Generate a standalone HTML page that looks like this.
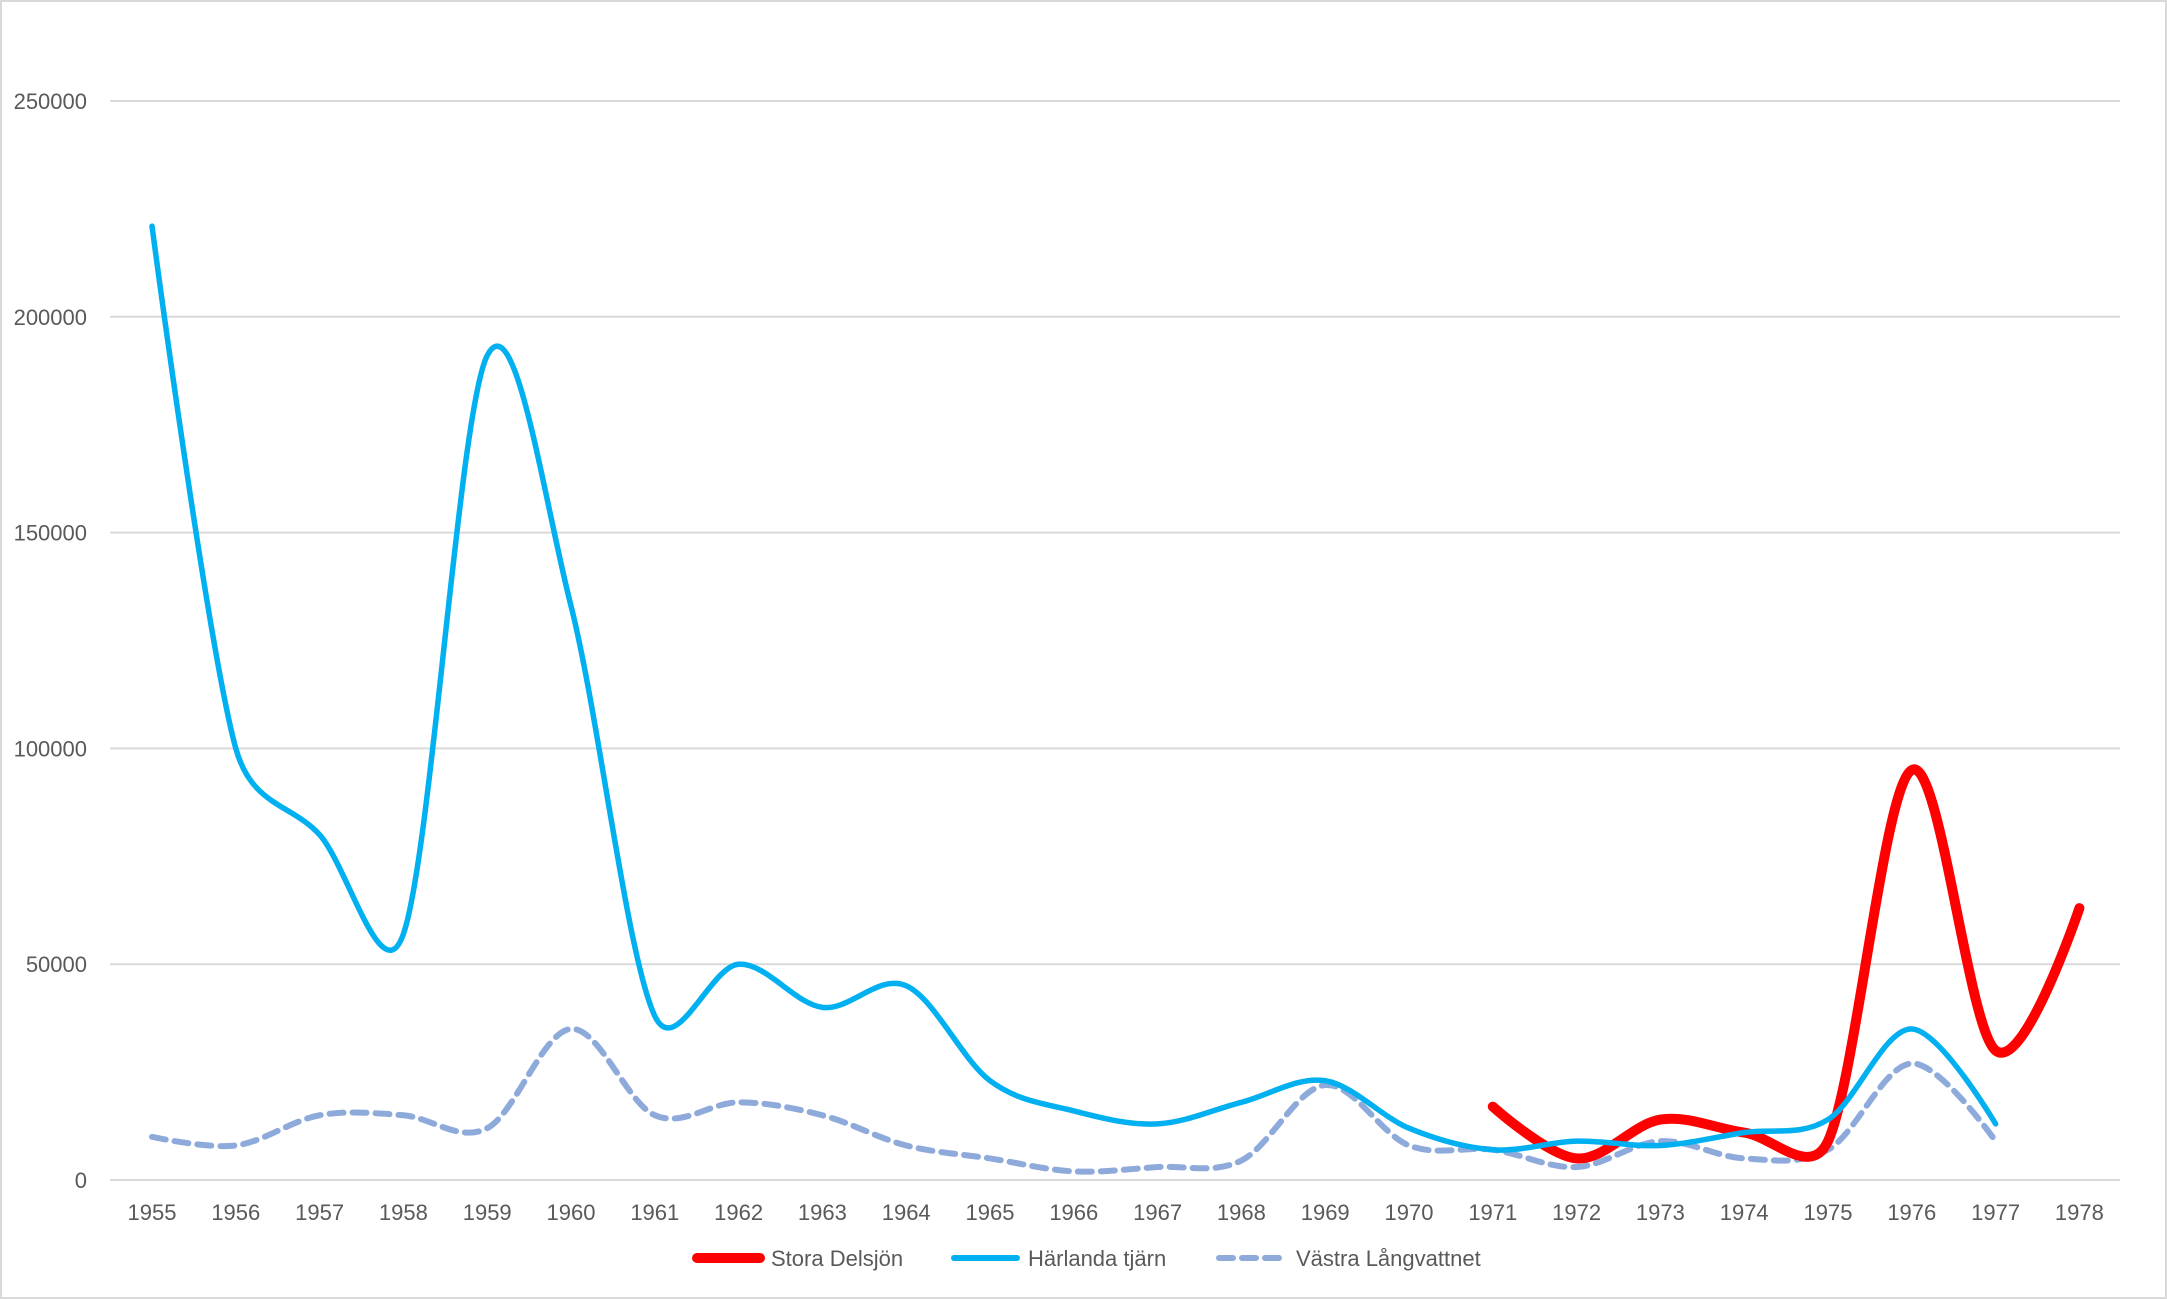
<!DOCTYPE html>
<html><head><meta charset="utf-8"><style>
html,body{margin:0;padding:0;background:#fff;}
svg{display:block;}
text{font-family:"Liberation Sans",sans-serif;fill:#595959;}
</style></head><body>
<svg id="s" width="2167" height="1299" viewBox="0 0 2167 1299" xmlns="http://www.w3.org/2000/svg">
<rect x="1" y="1" width="2165" height="1297" fill="#fff" stroke="#d9d9d9" stroke-width="2"/>
<g id="grid" stroke="#d9d9d9" stroke-width="2"></g>
<g id="ylab" font-size="22" text-anchor="end"></g>
<g id="xlab" font-size="22" text-anchor="middle"></g>
<g id="series" fill="none" stroke-linecap="round" stroke-linejoin="round"></g>
<g font-size="22">
<line x1="697" y1="1258" x2="760" y2="1258" stroke="#ff0000" stroke-width="10" stroke-linecap="round"/>
<text x="771" y="1266">Stora Delsjön</text>
<line x1="954" y1="1258" x2="1017" y2="1258" stroke="#00b0f0" stroke-width="6" stroke-linecap="round"/>
<text x="1028" y="1266">Härlanda tjärn</text>
<line x1="1219" y1="1258" x2="1284" y2="1258" stroke="#8eaadb" stroke-width="6" stroke-dasharray="14 9" stroke-linecap="round"/>
<text x="1296" y="1266">Västra Långvattnet</text>
</g>
</svg>
<script>
var NS="http://www.w3.org/2000/svg";
var x0=152,dx=83.8,y0=1180,ys=215.8/50000;
function X(i){return x0+i*dx;} function Y(v){return y0-v*ys;}
function el(t,a,p,txt){var e=document.createElementNS(NS,t);for(var k in a)e.setAttribute(k,a[k]);if(txt!==undefined)e.textContent=txt;document.getElementById(p).appendChild(e);}
for(var v=0;v<=250000;v+=50000){el('line',{x1:110,x2:2120,y1:Y(v),y2:Y(v)},'grid');el('text',{x:87,y:Y(v)+8},'ylab',String(v));}
for(var i=0;i<24;i++)el('text',{x:X(i),y:1220},'xlab',String(1955+i));
function dist(a,b){return Math.hypot(b[0]-a[0],b[1]-a[1]);}
function path(start,vals){var p=vals.map(function(v,i){return [X(start+i),Y(v)];});var d='M'+p[0][0]+' '+p[0][1];var n=p.length;
function cp(i,dir){
 if(i==0||i==n-1)return p[i];
 var a=p[i-1],b=p[i],c=p[i+1];
 var dac=dist(a,c);if(dac==0)return b;
 var L=dac/6, seg=dir>0?dist(b,c):dist(a,b);
 if(L>0.5*seg)L=0.5*seg;
 var ux=(c[0]-a[0])/dac,uy=(c[1]-a[1])/dac;
 return [b[0]+ux*L*dir,b[1]+uy*L*dir];}
for(var i=0;i<n-1;i++){var c1=cp(i,1),c2=cp(i+1,-1);d+=' C'+c1[0]+' '+c1[1]+' '+c2[0]+' '+c2[1]+' '+p[i+1][0]+' '+p[i+1][1];}
return d;}
var H=[221000,100000,80000,57000,191000,133000,38000,50000,40000,45000,23000,16000,13000,18000,23000,12000,7000,9000,8000,11000,14000,35000,13000];
var V=[10000,8000,15000,15000,12000,35000,15000,18000,15000,8000,5000,2000,3000,4500,22000,8000,7000,3000,9000,5000,7000,27000,9000];
var S=[17000,5000,14000,11000,9000,95000,30000,63000];
el('path',{d:path(0,V),stroke:'#8eaadb','stroke-width':6,'stroke-dasharray':'14 9'},'series');
el('path',{d:path(16,S),stroke:'#ff0000','stroke-width':10},'series');
el('path',{d:path(0,H),stroke:'#00b0f0','stroke-width':5.5},'series');
</script>
</body></html>
